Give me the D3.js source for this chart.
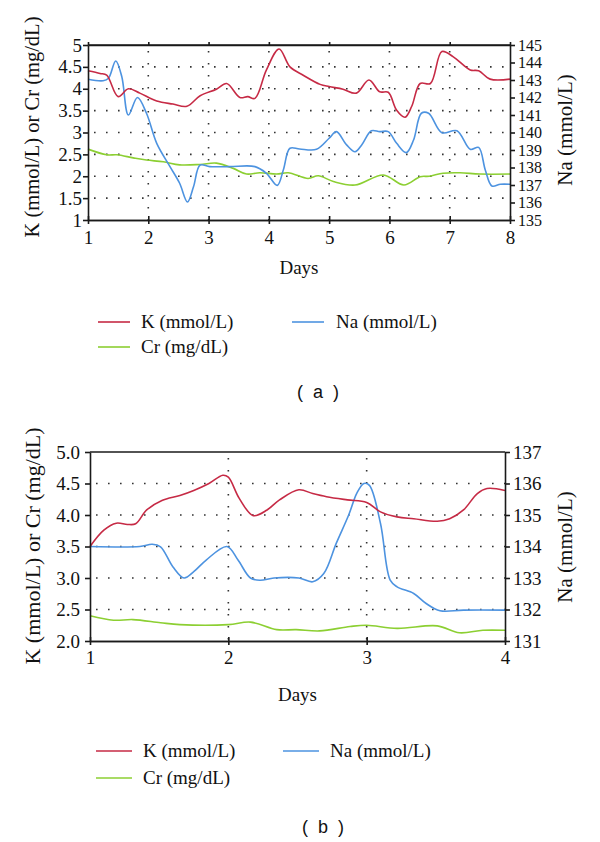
<!DOCTYPE html>
<html><head><meta charset="utf-8">
<script src="https://cdn.jsdelivr.net/npm/d3@7/dist/d3.min.js"></script>
<style>
body{margin:0;background:#fff}
svg{display:block}
</style>
</head><body>
<svg id="c" width="600" height="842"></svg>
<script>
// ---------- data ----------
const seriesNames = ["K (mmol/L)", "Na (mmol/L)", "Cr (mg/dL)"];
const xTitle = "Days";
const leftTitle = "K (mmol/L) or Cr (mg/dL)";
const rightTitle = "Na (mmol/L)";

// chart (a)
const dayTicksA = [1,2,3,4,5,6,7,8];
const leftTicksA = [1,1.5,2,2.5,3,3.5,4,4.5,5];
const leftLabelsA = ["1","1.5","2","2.5","3","3.5","4","4.5","5"];
const rightTicksA = [135,136,137,138,139,140,141,142,143,144,145];
const kA = [[1,4.41],[1.2,4.35],[1.31,4.31],[1.5,3.82],[1.67,4.0],[1.86,3.9],[2.14,3.72],[2.41,3.65],[2.64,3.6],[2.86,3.84],[3.13,3.99],[3.3,4.12],[3.52,3.8],[3.65,3.82],[3.77,3.78],[3.96,4.43],[4.17,4.91],[4.35,4.5],[4.57,4.31],[4.85,4.1],[5.0,4.05],[5.23,3.99],[5.45,3.9],[5.66,4.2],[5.84,3.93],[5.98,3.92],[6.12,3.51],[6.26,3.35],[6.37,3.6],[6.51,4.12],[6.68,4.12],[6.87,4.85],[7.06,4.73],[7.34,4.43],[7.48,4.41],[7.67,4.22],[8,4.22]];
const naA = [[1,143.04],[1.25,142.96],[1.34,143.1],[1.46,144.09],[1.56,143.2],[1.67,141.0],[1.82,142.0],[1.97,141.1],[2.14,139.38],[2.36,138.05],[2.52,137.1],[2.65,136.03],[2.75,136.9],[2.86,138.14],[3.02,138.05],[3.35,138.05],[3.77,138.05],[3.96,137.67],[4.14,136.98],[4.24,137.86],[4.35,139.1],[4.51,139.06],[4.79,139.04],[5.0,139.67],[5.12,140.05],[5.29,139.29],[5.43,138.9],[5.54,139.29],[5.7,140.1],[5.84,140.05],[5.98,140.05],[6.12,139.38],[6.28,138.85],[6.4,139.57],[6.53,141.1],[6.65,141.1],[6.87,139.99],[7.12,140.1],[7.34,139.04],[7.48,139.15],[7.59,137.86],[7.7,136.94],[7.84,137.04],[8,137.04]];
const crA = [[1,2.62],[1.31,2.49],[1.48,2.49],[1.75,2.42],[1.97,2.37],[2.25,2.33],[2.52,2.26],[2.86,2.27],[3.13,2.3],[3.41,2.18],[3.63,2.05],[3.85,2.08],[4.13,2.05],[4.32,2.08],[4.65,1.95],[4.82,2.01],[5.07,1.88],[5.43,1.8],[5.9,2.03],[6.24,1.8],[6.51,1.99],[6.66,2.0],[6.89,2.07],[7.17,2.08],[7.5,2.05],[8,2.05]];

// chart (b)
const dayTicksB = [1,2,3,4];
const leftTicksB = [2,2.5,3,3.5,4,4.5,5];
const leftLabelsB = ["2.0","2.5","3.0","3.5","4.0","4.5","5.0"];
const rightTicksB = [131,132,133,134,135,136,137];
const kB = [[1,3.5],[1.1,3.76],[1.19,3.87],[1.27,3.85],[1.33,3.86],[1.41,4.08],[1.52,4.23],[1.65,4.31],[1.75,4.39],[1.86,4.5],[1.96,4.63],[2.0,4.6],[2.08,4.26],[2.18,3.99],[2.28,4.08],[2.37,4.24],[2.51,4.4],[2.61,4.34],[2.71,4.29],[2.86,4.24],[3.0,4.2],[3.1,4.05],[3.22,3.97],[3.34,3.94],[3.51,3.9],[3.6,3.94],[3.7,4.08],[3.8,4.34],[3.87,4.42],[4.0,4.39]];
const naB = [[1,134.0],[1.36,134.0],[1.45,134.07],[1.51,133.99],[1.6,133.35],[1.68,133.0],[1.75,133.2],[1.84,133.57],[1.99,134.0],[2.07,133.57],[2.16,133.0],[2.23,132.93],[2.33,133.0],[2.51,133.0],[2.61,132.88],[2.69,133.14],[2.78,134.1],[2.87,135.0],[2.93,135.7],[2.98,136.0],[3.02,135.94],[3.1,134.73],[3.17,132.93],[3.22,132.72],[3.34,132.51],[3.43,132.19],[3.53,131.96],[3.7,131.98],[4.0,131.98]];
const crB = [[1,2.4],[1.17,2.33],[1.31,2.34],[1.51,2.29],[1.65,2.26],[2.0,2.26],[2.16,2.3],[2.35,2.18],[2.49,2.18],[2.66,2.16],[2.88,2.23],[3.0,2.25],[3.22,2.2],[3.51,2.24],[3.67,2.13],[3.84,2.17],[4.0,2.17]];

// ---------- drawing ----------
const SERIF = '"Liberation Serif","Times New Roman",serif';
const SANS = '"Liberation Sans",Arial,sans-serif';
const colors = {K:"#c62a45", Na:"#4d93e0", Cr:"#8ccf32"};
const svg = d3.select("#c");
svg.append("rect").attr("width",600).attr("height",842).attr("fill","#fff");

function txt(sel, size, fam){
  return sel.style("font-family", fam || SERIF).style("font-size", size+"px").attr("fill","#111");
}

function drawChart(cfg){
  const g = svg.append("g");
  const x = d3.scaleLinear().domain(d3.extent(cfg.days)).range([cfg.l, cfg.r]);
  const yL = d3.scaleLinear().domain(d3.extent(cfg.leftTicks)).range([cfg.b, cfg.t]);
  const yR = d3.scaleLinear().domain(d3.extent(cfg.rightTicks)).range([cfg.b, cfg.t]);

  // grid (dotted)
  const grid = g.append("g").attr("stroke","#333").attr("stroke-width",1.6).attr("stroke-dasharray","1.6,10.4");
  cfg.leftTicks.slice(1,-1).forEach(v=>{
    grid.append("line").attr("x1",cfg.l+6).attr("x2",cfg.r).attr("y1",yL(v)).attr("y2",yL(v));
  });
  cfg.days.slice(1,-1).forEach(v=>{
    grid.append("line").attr("x1",x(v)).attr("x2",x(v)).attr("y1",cfg.t+6).attr("y2",cfg.b);
  });

  // lines
  const lineL = d3.line().x(d=>x(d[0])).y(d=>yL(d[1])).curve(d3.curveCatmullRom.alpha(0.5));
  const lineR = d3.line().x(d=>x(d[0])).y(d=>yR(d[1])).curve(d3.curveCatmullRom.alpha(0.5));
  g.append("path").attr("d",lineL(cfg.cr)).attr("fill","none").attr("stroke",colors.Cr).attr("stroke-width",1.6);
  g.append("path").attr("d",lineR(cfg.na)).attr("fill","none").attr("stroke",colors.Na).attr("stroke-width",1.6);
  g.append("path").attr("d",lineL(cfg.k)).attr("fill","none").attr("stroke",colors.K).attr("stroke-width",1.6);

  // axes
  const axCol = "#1a1a1a";
  const ax = g.append("g").attr("class","axes");
  const aL = ax.append("g").attr("transform",`translate(${cfg.l},0)`)
    .call(d3.axisLeft(yL).tickValues(cfg.leftTicks).tickFormat((d,i)=>cfg.leftLabels[i]).tickSize(5).tickSizeOuter(0).tickPadding(cfg.lpad));
  const aR = ax.append("g").attr("transform",`translate(${cfg.r},0)`)
    .call(d3.axisRight(yR).tickValues(cfg.rightTicks).tickFormat(d3.format("d")).tickSize(5).tickSizeOuter(0).tickPadding(3));
  const aB = ax.append("g").attr("transform",`translate(0,${cfg.b})`)
    .call(d3.axisBottom(x).tickValues(cfg.days).tickFormat(d3.format("d")).tickSize(4).tickSizeOuter(0).tickPadding(cfg.bpad));
  ax.append("g").attr("transform",`translate(0,${cfg.b})`)
    .call(d3.axisBottom(x).tickValues(cfg.days).tickFormat("").tickSize(-4).tickSizeOuter(0));
  if(cfg.topTicks){
    ax.append("g").attr("transform",`translate(0,${cfg.t})`)
      .call(d3.axisTop(x).tickValues(cfg.days).tickFormat("").tickSize(3).tickSizeOuter(0));
  }
  ax.append("line").attr("x1",cfg.l).attr("x2",cfg.r).attr("y1",cfg.t).attr("y2",cfg.t);
  ax.selectAll("path.domain").attr("stroke",axCol).attr("stroke-width",1.6);
  ax.selectAll("line").attr("stroke",axCol).attr("stroke-width",1.6);
  txt(aL.selectAll("text"), 19);
  txt(aB.selectAll("text"), 19);
  txt(aR.selectAll("text"), cfg.rSize);

  // titles
  txt(g.append("text").attr("x",(cfg.l+cfg.r)/2).attr("y",cfg.daysY).attr("text-anchor","middle"), 19).text(xTitle);
  txt(g.append("text").attr("transform",`translate(${cfg.ltX},${cfg.ltY}) rotate(-90)`).attr("text-anchor","middle"), cfg.ltSize).text(leftTitle);
  txt(g.append("text").attr("transform",`translate(${cfg.rtX},${cfg.rtY}) rotate(-90)`).attr("text-anchor","middle"), 21).text(rightTitle);

  // legend
  const lg = cfg.legend;
  const items = [
    {name:seriesNames[0], c:colors.K, x:lg.x1, tx:lg.tx1, y:lg.y1},
    {name:seriesNames[1], c:colors.Na, x:lg.x2, tx:lg.tx2, y:lg.y1},
    {name:seriesNames[2], c:colors.Cr, x:lg.x1, tx:lg.tx1, y:lg.y2}
  ];
  items.forEach(it=>{
    g.append("line").attr("x1",it.x).attr("x2",it.x+lg.len).attr("y1",it.y).attr("y2",it.y).attr("stroke",it.c).attr("stroke-width",1.6);
    txt(g.append("text").attr("x",it.tx).attr("y",it.y+6), 19).text(it.name);
  });

  // panel label
  txt(g.append("text").attr("x",cfg.labX).attr("y",cfg.labY).attr("text-anchor","middle")
    .attr("xml:space","preserve").style("white-space","pre"), 18, SANS).text(cfg.label);
}

drawChart({
  l:88, r:510, t:45, b:220,
  days:dayTicksA, leftTicks:leftTicksA, leftLabels:leftLabelsA, rightTicks:rightTicksA,
  k:kA, na:naA, cr:crA, lpad:1, bpad:7, topTicks:true, rSize:16,
  daysY:274, ltX:39, ltY:127, ltSize:20.5, rtX:572, rtY:130,
  legend:{x1:98, tx1:141, x2:292, tx2:336, y1:322, y2:347, len:32},
  label:"(  a  )", labX:318, labY:398
});
drawChart({
  l:90, r:505, t:452, b:641,
  days:dayTicksB, leftTicks:leftTicksB, leftLabels:leftLabelsB, rightTicks:rightTicksB,
  k:kB, na:naB, cr:crB, lpad:5, bpad:6, topTicks:false, rSize:19,
  daysY:701, ltX:40, ltY:546, ltSize:22, rtX:572, rtY:547,
  legend:{x1:96, tx1:143, x2:283, tx2:330, y1:751, y2:778, len:36},
  label:"(  b  )", labX:323, labY:833
});
</script>
</body></html>
